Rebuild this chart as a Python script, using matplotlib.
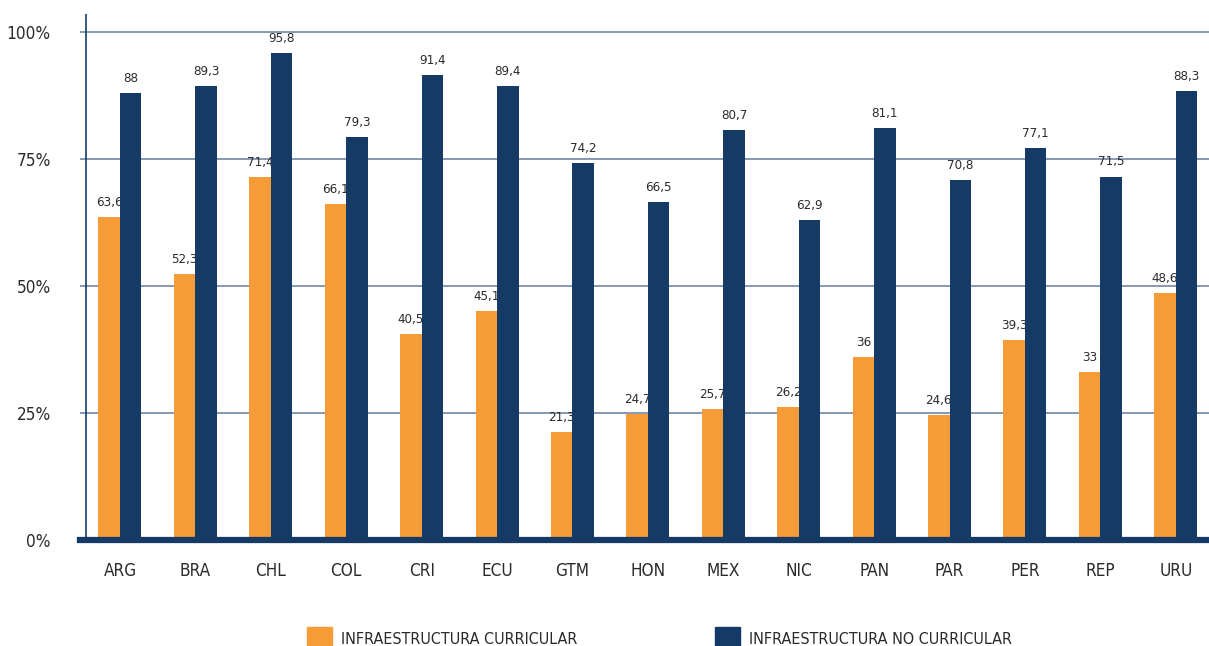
import matplotlib.pyplot as plt
import numpy as np
from matplotlib.patches import Patch
from matplotlib import font_manager

paises = ["ARG", "BRA", "CHL", "COL", "CRI", "ECU", "GTM", "HON", "MEX", "NIC", "PAN", "PAR", "PER", "REP", "URU"]
curricular = [63.6, 52.3, 71.4, 66.1, 40.5, 45.1, 21.3, 24.7, 25.7, 26.2, 36, 24.6, 39.3, 33, 48.6]
no_curricular = [88, 89.3, 95.8, 79.3, 91.4, 89.4, 74.2, 66.5, 80.7, 62.9, 81.1, 70.8, 77.1, 71.5, 88.3]
yticks = [0, 25, 50, 75, 100]
ytick_labels = ["0%", "25%", "50%", "75%", "100%"]

NARANJA = "#f59b37"
AZUL = "#163a66"
GRID = "#7d90ad"
TEXTO = "#2b2b2b"

# buscar una fuente condensada si existe
condensadas = [f for f in font_manager.fontManager.ttflist
               if "ondensed" in f.fname or "Narrow" in f.name or f.stretch in ("condensed", "semi-condensed")]
if condensadas:
    fp = font_manager.FontProperties(fname=condensadas[0].fname)
    familia = fp.get_name()
    escala = 1.12
else:
    familia = "Liberation Sans"
    escala = 1.0
plt.rcParams["font.family"] = [familia, "DejaVu Sans"]
if condensadas:
    plt.rcParams["font.stretch"] = condensadas[0].stretch

fig = plt.figure(figsize=(12.09, 6.46), dpi=100)
ax = fig.add_axes([80 / 1209, (646 - 540) / 646, 1 - 80 / 1209, (540 - 14) / 646])

x = np.arange(len(paises))
w = 0.285

ax.set_ylim(0, 103.5)
ax.set_xlim(-0.53, 14.44)

for y in yticks[1:]:
    ax.axhline(y, color=GRID, lw=1.3, zorder=1)

ax.bar(x - w / 2, curricular, w, color=NARANJA, zorder=2)
ax.bar(x + w / 2, no_curricular, w, color=AZUL, zorder=4)

def fmt(v):
    return f"{v:g}".replace(".", ",")

for xi, v in zip(x, curricular):
    ax.text(xi - w / 2, v + 1.6, fmt(v), ha="center", va="bottom", fontsize=8.5 * escala, color=TEXTO, zorder=3)
for xi, v in zip(x, no_curricular):
    ax.text(xi + w / 2, v + 1.6, fmt(v), ha="center", va="bottom", fontsize=8.5 * escala, color=TEXTO, zorder=5)

# linea base gruesa y eje vertical
ax.axhline(0, color=AZUL, lw=4.5, zorder=6, clip_on=False)
ax.axvline(-0.45, color=AZUL, lw=1.2, zorder=6)

for s in ax.spines.values():
    s.set_visible(False)

ax.set_yticks(yticks)
ax.set_yticklabels(ytick_labels)
ax.set_xticks(x)
ax.set_xticklabels(paises)
ax.tick_params(axis="y", length=0, pad=21, labelsize=11 * escala, labelcolor=TEXTO)
ax.tick_params(axis="x", length=0, pad=16, labelsize=11 * escala, labelcolor=TEXTO)

handles = [Patch(color=NARANJA), Patch(color=AZUL)]
fig.legend(handles, ["INFRAESTRUCTURA CURRICULAR", "INFRAESTRUCTURA NO CURRICULAR"],
           loc="lower left", bbox_to_anchor=(305 / 1209, -0.008), ncol=2, frameon=False,
           borderpad=0.1, borderaxespad=0,
           fontsize=10.3 * escala, handlelength=1.56, handleheight=1.75, handletextpad=0.56,
           columnspacing=8.6, labelcolor=TEXTO)

fig.savefig("out.png", dpi=100)
